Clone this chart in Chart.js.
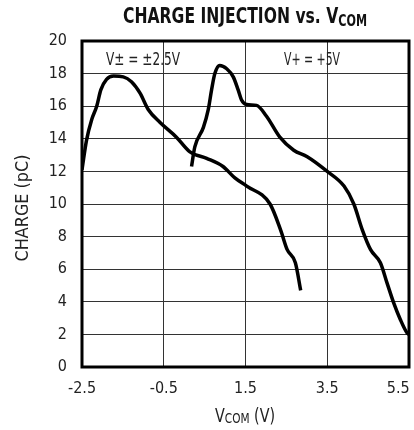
<!DOCTYPE html>
<html>
<head>
<meta charset="utf-8">
<script src="https://cdn.jsdelivr.net/npm/chart.js@4/dist/chart.umd.min.js"></script>
<style>
  html, body { margin: 0; padding: 0; background: #fff; }
  #wrap { width: 414px; height: 430px; position: relative; }
</style>
</head>
<body>
<div id="wrap"><canvas id="c" width="414" height="430"></canvas></div>
<script>
// charge injection vs. common-mode voltage, two supply configs
const FONT = '"Liberation Sans Narrow", "DejaVu Sans Condensed", "Roboto", sans-serif';

const dualX = [-2.5, -2.39, -2.26, -2.14, -2.04, -1.9, -1.73, -1.49, -1.29, -1.08, -0.88, -0.59, -0.19, 0.14, 0.55, 0.95, 1.24, 1.53, 2.1, 2.36, 2.52, 2.72, 2.85];
const dualY = [12.1, 13.9, 15.2, 16.0, 17.0, 17.65, 17.85, 17.8, 17.5, 16.8, 15.8, 15.0, 14.1, 13.2, 12.8, 12.3, 11.6, 11.1, 10.0, 8.4, 7.2, 6.4, 4.7];

const singleX = [0.18, 0.26, 0.47, 0.59, 0.67, 0.75, 0.87, 1.04, 1.2, 1.32, 1.4, 1.53, 1.77, 2.01, 2.34, 2.68, 3.01, 3.5, 3.91, 4.15, 4.36, 4.56, 4.8, 4.97, 5.13, 5.29, 5.45, 5.5];
const singleY = [12.3, 13.5, 14.7, 15.8, 17.0, 18.0, 18.5, 18.3, 17.8, 17.0, 16.4, 16.1, 16.05, 15.4, 14.1, 13.3, 12.9, 12.0, 11.1, 10.0, 8.4, 7.2, 6.4, 5.1, 3.9, 2.9, 2.1, 2.0];

const xTicks = [-2.5, -0.5, 1.5, 3.5, 5.5];
const yTicks = [0, 2, 4, 6, 8, 10, 12, 14, 16, 18, 20];

const toPts = (xs, ys) => xs.map((x, i) => ({ x, y: ys[i] }));

// draws runs of text (with optional subscript offset) centred on cx, squeezed to width w
function subText(ctx, parts, cx, y, w) {
  let nat = 0;
  parts.forEach((p) => { ctx.font = `${p[2] ? "bold " : ""}${p[1]}px ${FONT}`; nat += ctx.measureText(p[0]).width; });
  const k = w ? w / nat : 1;
  ctx.save();
  ctx.translate(cx - (nat * k) / 2, y);
  ctx.scale(k, 1);
  let x = 0;
  parts.forEach((p) => {
    ctx.font = `${p[2] ? "bold " : ""}${p[1]}px ${FONT}`;
    ctx.fillText(p[0], x, p[3] || 0);
    x += ctx.measureText(p[0]).width;
  });
  ctx.restore();
}

const decor = {
  id: "decor",
  afterDraw(chart) {
    const { ctx, chartArea: a } = chart;
    ctx.save();
    ctx.strokeStyle = "#000";
    ctx.lineWidth = 3;
    ctx.strokeRect(a.left, a.top, a.right - a.left, a.bottom - a.top);

    ctx.fillStyle = "#111";
    ctx.textBaseline = "alphabetic";
    ctx.textAlign = "left";
    subText(ctx, [["CHARGE INJECTION vs. V", 21, true], ["COM", 15, true, 3]], 245, 23, 244);
    ctx.fillStyle = "#222";
    subText(ctx, [["V", 19, false], ["COM", 14, false, 1], [" (V)", 19, false]], 245, 422, 60);
    subText(ctx, [["V± = ±2.5V", 17, false]], 143, 65, 74);
    subText(ctx, [["V+ = +5V", 17, false]], 312, 65, 56);

    ctx.translate(28, 208);
    ctx.rotate(-Math.PI / 2);
    subText(ctx, [["CHARGE (pC)", 17, false]], 0, 0, 107);
    ctx.restore();
  },
};

new Chart(document.getElementById("c"), {
  type: "scatter",
  data: {
    datasets: [
      { label: "V± = ±2.5V", data: toPts(dualX, dualY) },
      { label: "V+ = +5V", data: toPts(singleX, singleY) },
    ],
  },
  options: {
    responsive: false,
    animation: false,
    showLine: true,
    layout: { padding: { top: 41, right: 5, left: 0, bottom: 0 } },
    elements: {
      line: { borderColor: "#000", borderWidth: 3.5, cubicInterpolationMode: "monotone", borderCapStyle: "butt", fill: false },
      point: { radius: 0 },
    },
    plugins: { legend: { display: false }, tooltip: { enabled: false } },
    scales: {
      x: {
        type: "linear",
        min: -2.5,
        max: 5.5,
        afterBuildTicks: (s) => { s.ticks = xTicks.map((v) => ({ value: v })); },
        afterFit: (s) => { s.height = 63; s.paddingLeft = 0; s.paddingRight = 0; },
        ticks: {
          color: "#222",
          font: { family: FONT, size: 16 },
          padding: 12,
          // last label sits inside the canvas edge, as in the original
          callback: (v) => (v === 5.5 ? v.toFixed(1) + "\u2003\u2002" : v.toFixed(1)),
        },
        grid: { color: "#333", lineWidth: 1, drawTicks: false },
        border: { display: false },
      },
      y: {
        min: 0,
        max: 20,
        afterBuildTicks: (s) => { s.ticks = yTicks.map((v) => ({ value: v })); },
        afterFit: (s) => { s.width = 82; s.paddingTop = 0; s.paddingBottom = 0; },
        ticks: { color: "#222", font: { family: FONT, size: 16 }, padding: 15 },
        grid: { color: "#333", lineWidth: 1, drawTicks: false },
        border: { display: false },
      },
    },
  },
  plugins: [decor],
});
</script>
</body>
</html>
